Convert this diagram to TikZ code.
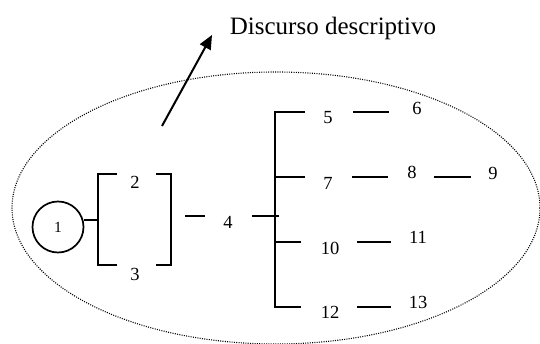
\documentclass[tikz,border=0pt]{standalone}
\usepackage{fontspec}
\setmainfont{Liberation Serif}
\usetikzlibrary{arrows.meta}
\begin{document}
\begin{tikzpicture}[x=1pt,y=-1pt,
  ln/.style={line width=2pt},
  num/.style={font=\fontsize{18.5}{18.5}\selectfont, inner sep=0pt},
]
\useasboundingbox (0,0) rectangle (540,344);
% dotted ellipse
\draw[line width=1.1pt, dash pattern=on 1pt off 1.3pt] (276,208) ellipse [x radius=264, y radius=136];
% title and arrow
\node[font=\fontsize{25}{25}\selectfont, inner sep=0pt] (title) at (333,28) {Discurso descriptivo};
\coordinate (arrS) at (162,126);
\coordinate (arrE) at (212,35);
\draw[line width=2pt, -{Triangle[length=14pt,width=12pt]}] (arrS) -- (arrE);
% circle 1
\node[draw, circle, line width=1.7pt, minimum size=51pt, inner sep=0pt, font=\fontsize{15.5}{15.5}\selectfont] (n1) at (58,227) {1};
% left bracket
\draw[ln] (117,174) -- (98,174) -- (98,265) -- (117,265);
\draw[ln] (156,174) -- (171,174) -- (171,265) -- (156,265);
\draw[ln] (n1.east |- 0,220) -- (98,220);
\node[num] (n2) at (135,182) {2};
\node[num] (n3) at (135,274) {3};
\draw[ln] (185,216) -- (205,216);
\node[num] (n4) at (228,222) {4};
\draw[ln] (252,216) -- (279,216);
% tree
\draw[ln] (305,112) -- (275,112) -- (275,307) -- (301,307);
\draw[ln] (275,177) -- (305,177);
\draw[ln] (275,242) -- (301,242);
\node[num] (n5) at (328,118) {5};
\node[num] (n6) at (417,108) {6};
\draw[ln] (353,112) -- (389,112);
\node[num] (n7) at (328,183) {7};
\node[num] (n8) at (412,172) {8};
\node[num] (n9) at (493,173) {9};
\draw[ln] (352,177) -- (388,177);
\draw[ln] (434,177) -- (471,177);
\node[num] (n10) at (330,248) {10};
\node[num] (n11) at (418,237) {11};
\draw[ln] (357,242) -- (391,242);
\node[num] (n12) at (330,312) {12};
\node[num] (n13) at (418,302) {13};
\draw[ln] (357,307) -- (391,307);
\end{tikzpicture}
\end{document}
